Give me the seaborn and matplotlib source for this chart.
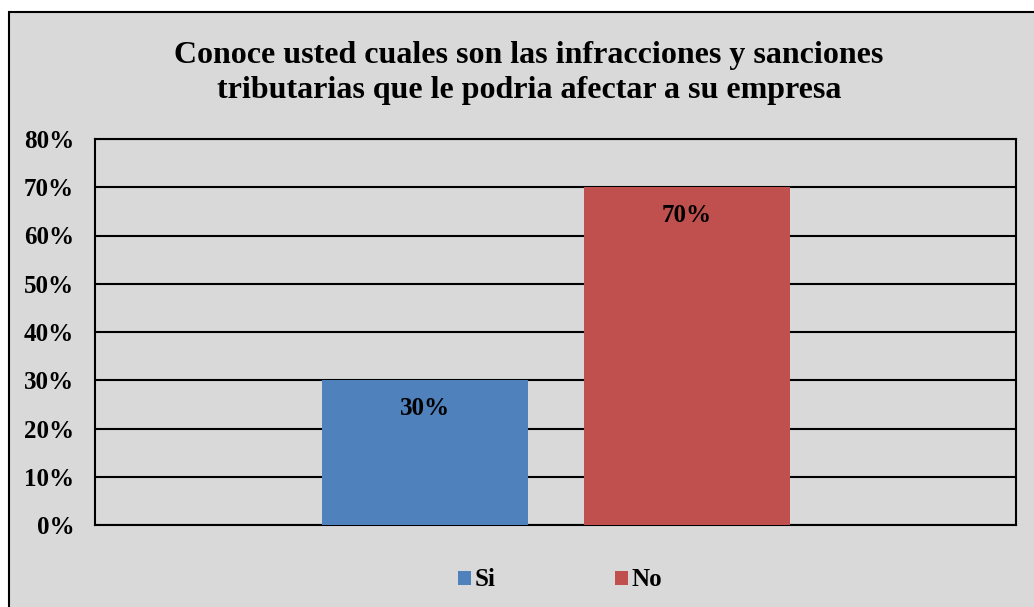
import matplotlib
matplotlib.use("Agg")
import matplotlib.pyplot as plt
from matplotlib.patches import Rectangle
import seaborn as sns
import pandas as pd

# data
respuestas = ["Si", "No"]
porcentajes = [0.30, 0.70]
colores = ["#4F81BD", "#C0504D"]
titulo = "Conoce usted cuales son las infracciones y sanciones\ntributarias que le podria afectar a su empresa"

df = pd.DataFrame({"respuesta": respuestas, "pct": porcentajes})

sns.set_style("white")
plt.rcParams["font.family"] = ["Liberation Serif", "DejaVu Serif"]
plt.rcParams["font.weight"] = "bold"
plt.rcParams["text.color"] = "black"
plt.rcParams["ytick.color"] = "black"

W, H = 1034, 607
fig = plt.figure(figsize=(W / 100, H / 100), dpi=100, facecolor="white")

# chart area with a border (only top/left edges are inside the picture)
fig.patches.append(Rectangle((9 / W, -0.05), 1.2, (H - 12) / H + 0.05,
                             transform=fig.transFigure, facecolor="#D9D9D9",
                             edgecolor="black", linewidth=1.5, zorder=-1))

ax = fig.add_axes([95 / W, (H - 525) / H, (1016 - 95) / W, (525 - 139) / H])
ax.set_facecolor("#D9D9D9")

sns.barplot(data=df, x="respuesta", y="pct", hue="respuesta", palette=colores,
            width=0.786, saturation=1, legend=False, ax=ax, zorder=3,
            edgecolor="none", linewidth=0)

ax.set_xlim(-1.2595, 2.2557)
ax.set_ylim(0, 0.8)
ax.set_yticks([i / 10 for i in range(9)])
ax.set_yticklabels([f"{i * 10}%" for i in range(9)], fontsize=18, fontweight="bold")
ax.set_xticks([])
ax.set_xlabel("")
ax.set_ylabel("")
ax.tick_params(axis="y", length=0, pad=15)
ax.yaxis.grid(True, color="black", linewidth=1.5, zorder=1)
ax.set_axisbelow(True)
for s in ax.spines.values():
    s.set_visible(True)
    s.set_color("black")
    s.set_linewidth(1.5)

# value labels just inside the top of each bar
for bar, v in zip(ax.patches, porcentajes):
    ax.annotate(f"{v * 100:.0f}%", xy=(bar.get_x() + bar.get_width() / 2, v),
                xytext=(0, -20), textcoords="offset points", ha="center", va="center",
                fontsize=18, fontweight="bold", zorder=5)

fig.text(529 / W, 1 - 73 / H, titulo, ha="center", va="center",
         fontsize=23, fontweight="bold", linespacing=1.29)

handles = [Rectangle((0, 0), 1, 1, facecolor=c, edgecolor="none") for c in colores]
fig.legend(handles, respuestas, loc="center", bbox_to_anchor=(560 / W, 1 - 580 / H),
           ncol=2, frameon=False, handlelength=0.5, handleheight=0.5,
           handletextpad=0.15, columnspacing=4.8, prop={"size": 18, "weight": "bold"})

fig.savefig("out.png", dpi=100, facecolor=fig.get_facecolor())
